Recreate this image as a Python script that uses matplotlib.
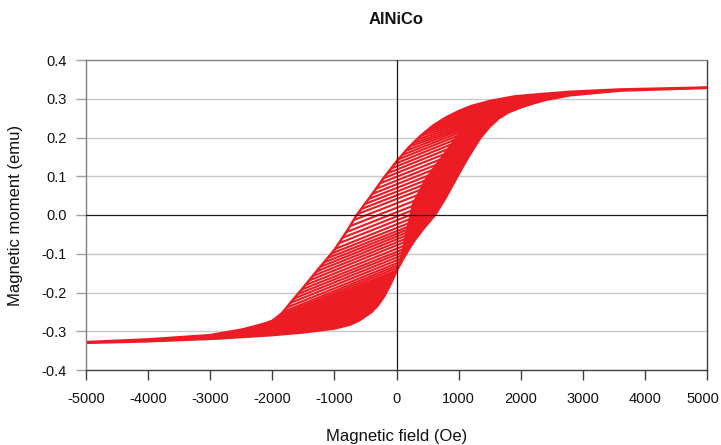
import numpy as np
import matplotlib
matplotlib.use('Agg')
import matplotlib.pyplot as plt
from matplotlib.transforms import ScaledTranslation

# major loop, descending branch (field in Oe, moment in emu)
desc_field = [-5000, -4000, -3000, -2500, -2300, -2100, -2000, -1950, -1850, -1800, -1700, -1500,
              -1250, -1000, -800, -640, -400, -200, 0, 200, 400, 600, 800, 1000, 1200,
              1500, 1900, 2400, 2800, 3600, 5000]
desc_moment = [-0.328, -0.321, -0.310, -0.296, -0.288, -0.279, -0.273, -0.267, -0.254, -0.245, -0.225, -0.187,
               -0.138, -0.090, -0.042, 0.000, 0.052, 0.097, 0.138, 0.175, 0.206, 0.232, 0.252, 0.268, 0.281,
               0.294, 0.306, 0.313, 0.318, 0.324, 0.329]

# major loop, ascending branch
asc_field = [-5000, -4000, -2900, -2000, -1500, -1000, -750, -600, -400, -300, -200, -100,
             0, 100, 200, 300, 460, 620, 800, 970, 1150, 1345, 1500, 1650, 1800, 2000,
             2200, 2400, 2800, 3600, 5000]
asc_moment = [-0.330, -0.326, -0.319, -0.310, -0.303, -0.293, -0.283, -0.272, -0.250, -0.233, -0.210, -0.180,
              -0.145, -0.115, -0.088, -0.063, -0.030, 0.000, 0.047, 0.097, 0.148, 0.198, 0.228, 0.250, 0.265, 0.278,
              0.288, 0.297, 0.309, 0.321, 0.328]

# reversal curves: reversal field and field where each one rejoins the ascending branch
reversal_field = [-1950, -1890, -1830, -1770, -1710, -1650, -1590, -1530, -1470, -1410,
                  -1350, -1290, -1230, -1170, -1110, -1050, -990, -930, -870, -810,
                  -750, -690, -630, -570, -510, -450, -390, -330, -270, -210,
                  -150, -90, -30, 30, 90, 150, 210, 270, 330, 390, 450]
join_field = [8, 34, 60, 86, 120, 157, 194, 230, 274, 328,
              382, 436, 489, 542, 594, 647, 699, 749, 798, 847,
              896, 944, 989, 1034, 1079, 1124, 1174, 1223, 1273, 1323,
              1387, 1456, 1525, 1612, 1717, 1822, 1915, 1975, 2035, 2095, 2155]

# edge of the region where the reversal curves have merged together
merge_field = [8, 60, 137, 250, 459, 781, 1071, 1344, 1700]
merge_moment = [-0.142, -0.105, -0.050, 0.030, 0.095, 0.165, 0.227, 0.266, 0.293]

x_ticks = [-5000, -4000, -3000, -2000, -1000, 0, 1000, 2000, 3000, 4000, 5000]
y_ticks = [-0.4, -0.3, -0.2, -0.1, 0.0, 0.1, 0.2, 0.3, 0.4]

plt.rcParams['font.family'] = ['Liberation Sans', 'DejaVu Sans']

red = '#ED1C24'

fig = plt.figure(figsize=(7.21, 4.45), dpi=100)
ax = fig.add_axes([86 / 721, 1 - 370 / 445, 621 / 721, 310 / 445])

df = np.array(desc_field)
dm = np.array(desc_moment)
af = np.array(asc_field)
am = np.array(asc_moment)

# packed curves below the first visible reversal curve
h0, j0 = reversal_field[0], join_field[0]
keep_d = df < h0
keep_a = af < j0
hs = np.concatenate([df[keep_d], [h0, j0], af[keep_a][::-1]])
ms = np.concatenate([dm[keep_d], [np.interp(h0, df, dm), np.interp(j0, af, am)], am[keep_a][::-1]])
ax.fill(hs, ms, color=red, lw=0, zorder=2)

# packed curves above the last visible reversal curve
h1, j1 = reversal_field[-1], join_field[-1]
keep_d = df > h1
keep_a = af > j1
hs = np.concatenate([[h1], df[keep_d], af[keep_a][::-1], [j1]])
ms = np.concatenate([[np.interp(h1, df, dm)], dm[keep_d], am[keep_a][::-1], [np.interp(j1, af, am)]])
ax.fill(hs, ms, color=red, lw=0, zorder=2)

# merged region next to the ascending branch
keep_a = (af > merge_field[0]) & (af < merge_field[-1])
hs = np.concatenate([merge_field, [merge_field[-1]], af[keep_a][::-1]])
ms = np.concatenate([merge_moment, [np.interp(merge_field[-1], af, am)], am[keep_a][::-1]])
ax.fill(hs, ms, color=red, lw=0, zorder=2)

for hr, hj in zip(reversal_field, join_field):
    ax.plot([hr, hj], [np.interp(hr, df, dm), np.interp(hj, af, am)],
            color=red, lw=1.55, solid_capstyle='butt', zorder=2)

ax.plot(desc_field, desc_moment, color=red, lw=1.8, zorder=2)
ax.plot(asc_field, asc_moment, color=red, lw=1.8, zorder=2)

ax.set_xlim(-5000, 5000)
ax.set_ylim(-0.4, 0.4)
ax.set_xticks(x_ticks)
ax.set_yticks(y_ticks)
ax.set_xticklabels([str(t) for t in x_ticks])
ax.set_yticklabels(['%.1f' % t for t in y_ticks])

for y in y_ticks[1:-1]:
    if y != 0.0:
        ax.axhline(y, color='#c8c8c8', lw=1.0, zorder=1)
ax.axhline(0, color='#1a1a1a', lw=0.9, zorder=3)
ax.axvline(0, color='#1a1a1a', lw=0.9, zorder=3)

for side in ['left', 'top']:
    ax.spines[side].set_color('#808080')
for side in ['right', 'bottom']:
    ax.spines[side].set_color('#404040')
for s in ax.spines.values():
    s.set_linewidth(1.0)

ax.tick_params(axis='x', direction='out', length=7, width=1, color='#404040',
               labelsize=10.5, pad=9, labelcolor='#111111')
ax.tick_params(axis='y', direction='out', length=7, width=1, color='#a0a0a0',
               labelsize=10.5, pad=7, labelcolor='#111111')

# keep the last x label inside the figure
last = ax.get_xticklabels()[-1]
last.set_transform(last.get_transform() + ScaledTranslation(-3 / 72, 0, fig.dpi_scale_trans))

ax.set_xlabel('Magnetic field (Oe)', fontsize=12, color='#111111')
ax.set_ylabel('Magnetic moment (emu)', fontsize=12, color='#111111')
ax.xaxis.set_label_coords(0.5, (370 - 429) / 310)
ax.yaxis.set_label_coords((23 - 86) / 621, 0.5)

fig.text(396.5 / 721, 1 - 20 / 445, 'AlNiCo', ha='center', va='center',
         fontsize=12, fontweight='bold', color='#111111')

fig.savefig('out.png', dpi=100)
